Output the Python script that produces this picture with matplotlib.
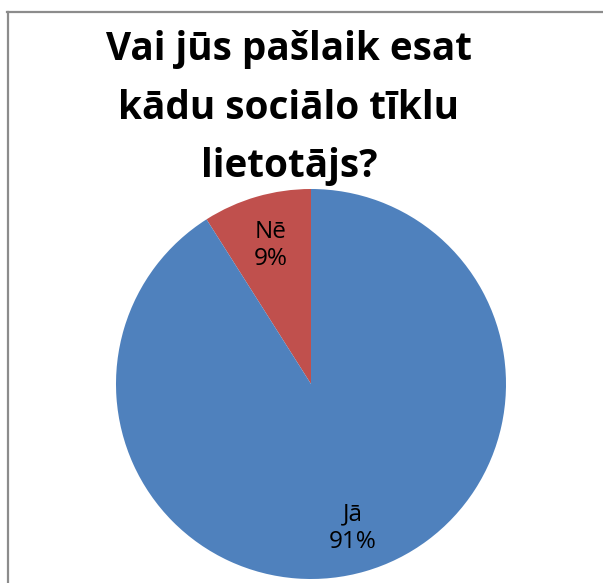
import matplotlib
matplotlib.use("Agg")
import matplotlib.pyplot as plt
import numpy as np

# Survey answers
categories = ["Nē", "Jā"]
values = [9, 91]
colors = ["#C0504D", "#4F81BD"]
title_lines = ["Vai jūs pašlaik esat", "kādu sociālo tīklu", "lietotājs?"]

W, H = 603, 583
fig = plt.figure(figsize=(W / 100, H / 100), dpi=100)
fig.patch.set_facecolor("white")

# Chart-area frame (left and top edges)
border = "#8C8C8C"
fig.add_artist(plt.Line2D([7.5 / W, 7.5 / W], [0, 1 - 11.5 / H],
                          transform=fig.transFigure, color=border, lw=1.6))
fig.add_artist(plt.Line2D([7 / W, 1], [1 - 11.5 / H, 1 - 11.5 / H],
                          transform=fig.transFigure, color=border, lw=1.6))

# Title
title_font = dict(family="Open Sans", weight="bold", size=27.8)
baselines = [60, 119, 177]
for line, yb in zip(title_lines, baselines):
    fig.text(289 / W, 1 - yb / H, line, ha="center", va="baseline",
             **title_font)

# Pie
cx, cy, r = 311, 384, 195
ax = fig.add_axes([(cx - r) / W, (H - cy - r) / H, 2 * r / W, 2 * r / H])
wedges, _ = ax.pie(values, colors=colors, startangle=90, counterclock=True,
                   radius=1.0, wedgeprops=dict(linewidth=0))
ax.set_xlim(-1, 1)
ax.set_ylim(-1, 1)
ax.axis("off")

label_dist = [0.74, 0.77]
for w, cat, v, d in zip(wedges, categories, values, label_dist):
    mid = np.deg2rad((w.theta1 + w.theta2) / 2)
    ax.text(d * np.cos(mid), d * np.sin(mid), f"{cat}\n{v}%",
            ha="center", va="center", family="Open Sans", size=17.5,
            linespacing=1.15, color="black")

fig.savefig("out.png", dpi=100, facecolor="white")
